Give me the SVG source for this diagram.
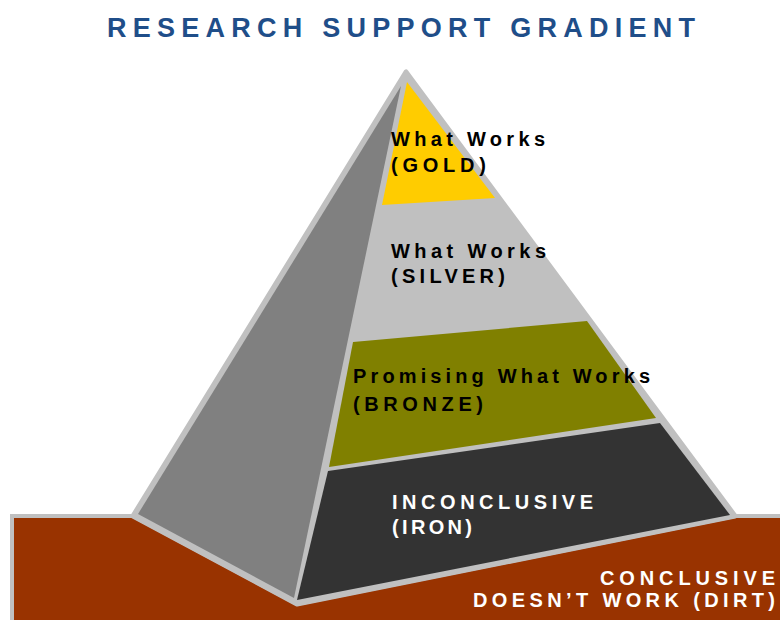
<svg xmlns="http://www.w3.org/2000/svg" width="780" height="620" viewBox="0 0 780 620">
<style>
.t{font-family:"Liberation Sans",Arial,sans-serif;font-weight:bold;}
.dk{fill:#000000;font-size:20px;}
.wh{fill:#FFFFFF;font-size:20px;}
.title{fill:#1F4E89;font-size:27px;}
</style>
<rect x="0" y="0" width="780" height="620" fill="#FFFFFF"/>
<g id="title">
<text class="t title" x="107" y="37" textLength="588" lengthAdjust="spacing">RESEARCH SUPPORT GRADIENT</text>
</g>
<g id="dirt">
<polygon points="12,516 133,516 297,604 735,516 784,516 784,626 12,626" fill="#993300" stroke="#C0C0C0" stroke-width="4" stroke-linejoin="miter"/>
<text class="t wh" x="600" y="585" textLength="175" lengthAdjust="spacing">CONCLUSIVE</text>
<text class="t wh" x="473" y="607" textLength="302" lengthAdjust="spacing">DOESN’T WORK (DIRT)</text>
</g>
<g id="pyramid">
<polygon points="406,72 133,516 297,604 735,516" fill="#C0C0C0" stroke="#C0C0C0" stroke-width="5" stroke-linejoin="round"/>
<polygon id="left-face" points="401,86 138,514 294,598" fill="#808080"/>
</g>
<g id="gold">
<polygon points="407,82 382,205 495,198" fill="#FFCC00"/>
<text class="t dk" x="391" y="146" textLength="154" lengthAdjust="spacing">What Works</text>
<text class="t dk" x="391" y="172" textLength="95" lengthAdjust="spacing">(GOLD)</text>
</g>
<g id="silver">
<text class="t dk" x="391" y="258" textLength="155" lengthAdjust="spacing">What Works</text>
<text class="t dk" x="391" y="283" textLength="114" lengthAdjust="spacing">(SILVER)</text>
</g>
<g id="bronze">
<polygon points="353,342 587,321 656,418 329,467" fill="#808000"/>
<text class="t dk" x="353" y="383" textLength="297" lengthAdjust="spacing">Promising What Works</text>
<text class="t dk" x="353" y="411" textLength="130" lengthAdjust="spacing">(BRONZE)</text>
</g>
<g id="iron">
<polygon points="328,471 660,423 730,515 297,600" fill="#333333"/>
<text class="t wh" x="392" y="509" textLength="201" lengthAdjust="spacing">INCONCLUSIVE</text>
<text class="t wh" x="392" y="534" textLength="80" lengthAdjust="spacing">(IRON)</text>
</g>
</svg>
